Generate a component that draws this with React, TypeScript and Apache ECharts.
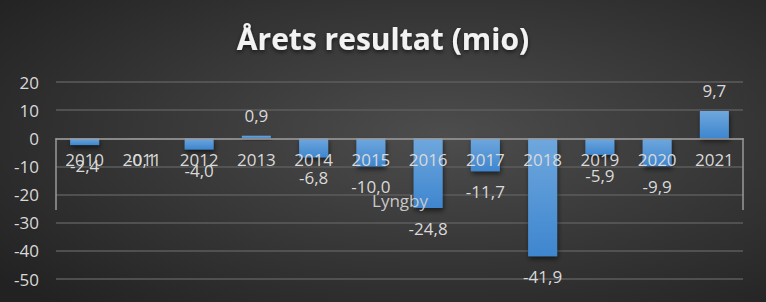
import React, { useEffect, useRef } from "react";
import * as echarts from "echarts";

const years = ["2010", "2011", "2012", "2013", "2014", "2015", "2016", "2017", "2018", "2019", "2020", "2021"];
const results = [-2.4, -0.1, -4.0, 0.9, -6.8, -10.0, -24.8, -11.7, -41.9, -5.9, -9.9, 9.7];
const yMin = -50;
const yMax = 20;
const yStep = 10;
const titleText = "Årets resultat (mio)";
const strayLabel = "Lyngby";

export default function App() {
  const ref = useRef<HTMLDivElement>(null);
  useEffect(() => {
    if (!ref.current) return;
    const chart = echarts.init(ref.current, null, { renderer: "svg" });
    const font = "'Open Sans', 'Noto Sans', sans-serif";
    const textColor = "#d9d9d9";
    const gridTop = 82;
    const gridBottom = 23;
    const plotH = 302 - gridTop - gridBottom;
    const zeroOffset = -(plotH * (0 - yMin)) / (yMax - yMin);
    chart.setOption({
      animation: false,
      backgroundColor: new echarts.graphic.RadialGradient(0.58, 0.45, 0.75, [
        { offset: 0, color: "#4d4d4d" },
        { offset: 1, color: "#222222" },
      ]),
      title: {
        text: titleText,
        left: "center",
        top: 18,
        textStyle: {
          fontFamily: font,
          fontWeight: "bold",
          fontSize: 30,
          color: "#f2f2f2",
          textShadowColor: "rgba(0,0,0,0.6)",
          textShadowBlur: 4,
          textShadowOffsetY: 2,
        },
      },
      grid: { left: 56, right: 23, top: gridTop, bottom: gridBottom, containLabel: false },
      xAxis: {
        type: "category",
        data: years,
        position: "bottom",
        offset: zeroOffset,
        axisLine: { onZero: false, lineStyle: { color: "#9a9a9a", width: 1.5 } },
        axisTick: { show: false },
        axisLabel: { color: textColor, fontFamily: font, fontSize: 17, margin: 13 },
        splitLine: { show: false },
        z: 5,
      },
      yAxis: {
        type: "value",
        min: yMin,
        max: yMax,
        interval: yStep,
        axisLine: { show: false },
        axisTick: { show: false },
        axisLabel: { color: textColor, fontFamily: font, fontSize: 17, margin: 17 },
        splitLine: { lineStyle: { color: "#5c5c5c", width: 1.5 } },
      },
      series: [
        {
          type: "bar",
          data: results.map((v) => ({
            value: v,
            label: { position: v >= 0 ? "top" : "bottom" },
          })),
          barWidth: 29,
          z: 3,
          itemStyle: {
            color: new echarts.graphic.LinearGradient(0, 0, 0, 1, [
              { offset: 0, color: "#6fa7dd" },
              { offset: 1, color: "#3e86cf" },
            ]),
            shadowColor: "rgba(0,0,0,0.55)",
            shadowBlur: 5,
            shadowOffsetX: 1,
            shadowOffsetY: 3,
          },
          label: {
            show: true,
            distance: 12,
            color: textColor,
            fontFamily: font,
            fontSize: 17,
            formatter: (p: any) => p.value.toFixed(1).replace(".", ","),
          },
        },
      ],
    });
    const x0 = chart.convertToPixel({ xAxisIndex: 0 }, years[0]) as number;
    const y0 = chart.convertToPixel({ yAxisIndex: 0 }, 0) as number;
    const yLow = chart.convertToPixel({ yAxisIndex: 0 }, -25.5) as number;
    const step = (chart.convertToPixel({ xAxisIndex: 0 }, years[1]) as number) - x0;
    const left = x0 - step / 2;
    const right = x0 + step * (years.length - 0.5);
    chart.setOption({
      graphic: [
        { type: "line", z: 50, shape: { x1: left, y1: y0, x2: left, y2: yLow }, style: { stroke: "#9a9a9a", lineWidth: 1.5 } },
        { type: "line", z: 50, shape: { x1: right, y1: y0, x2: right, y2: yLow }, style: { stroke: "#9a9a9a", lineWidth: 1.5 } },
        {
          type: "text",
          z: 100,
          x: 400,
          y: 200,
          style: { text: strayLabel, fill: "#c8c8c8", font: `17px ${font}`, align: "center", verticalAlign: "middle" },
        },
      ],
    });
    return () => chart.dispose();
  }, []);
  return <div ref={ref} style={{ width: 766, height: 302, position: "absolute", left: 0, top: 0 }} />;
}
